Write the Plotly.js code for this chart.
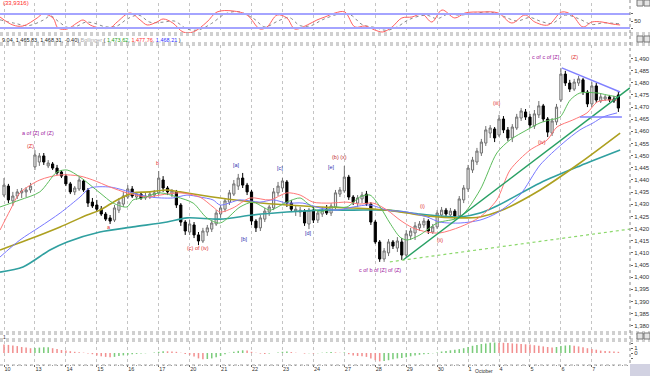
<!DOCTYPE html>
<html><head><meta charset="utf-8">
<script src="https://cdn.plot.ly/plotly-3.0.1.min.js"></script>
<style>html,body{margin:0;padding:0;background:#fff;overflow:hidden}#chart{width:650px;height:376px}</style>
</head><body><div id="chart"></div>
<script>
// ---------- data ----------
const dayLabels = ['10','13','14','15','16','17','20','21','22','23','24','27','28','29','30','1','4','5','6','7'];
const barsPerDay = 7;

const open = [1433.8,1437.5,1431.4,1433.4,1434.7,1435.1,1435.9,
1445.4,1447.4,1449.9,1445.8,1446.6,1444.9,1443.3,
1441.6,1438.4,1435.1,1436.3,1439.6,1435.9,1430.9,
1429.7,1428.0,1426.0,1424.4,1423.5,1427.6,1430.1,
1433.0,1436.3,1433.0,1434.2,1432.6,1433.0,1433.8,
1434.7,1440.0,1436.7,1434.2,1435.1,1429.7,1422.7,
1418.6,1421.5,1417.4,1414.9,1418.6,1419.8,1421.9,
1426.0,1428.0,1430.9,1434.2,1437.5,1440.8,1437.9,
1435.1,1423.1,1420.3,1423.9,1426.8,1428.5,1434.7,
1436.7,1439.2,1430.5,1427.2,1426.8,1427.2,1421.9,
1427.6,1423.5,1426.0,1428.0,1426.4,1428.9,1434.2,
1435.5,1441.2,1433.0,1430.5,1432.2,1434.2,1430.1,
1422.7,1414.5,1407.5,1410.0,1414.5,1412.0,1414.5,
1409.1,1417.0,1418.2,1420.3,1421.5,1423.1,1418.6,
1420.7,1425.6,1427.6,1425.6,1427.2,1425.2,1431.8,
1436.3,1444.1,1447.4,1451.1,1455.2,1459.3,1461.0,
1458.5,1465.1,1460.6,1457.3,1461.4,1465.5,1468.0,
1465.9,1462.2,1466.8,1470.5,1465.1,1459.3,1463.9,
1472.9,1483.6,1479.9,1477.4,1479.9,1481.2,1476.2,
1471.3,1478.7,1472.5,1473.3,1474.2,1473.3,1475.0];
const high = [1440.8,1438.4,1435.1,1436.3,1436.7,1437.1,1438.8,
1452.3,1451.1,1451.1,1448.2,1447.4,1446.2,1444.1,
1442.5,1439.2,1437.5,1441.2,1440.4,1436.7,1432.6,
1431.8,1429.3,1426.8,1425.6,1429.7,1432.6,1435.1,
1437.9,1437.5,1435.1,1435.1,1434.7,1435.1,1435.9,
1443.7,1441.6,1437.5,1436.3,1435.9,1430.5,1423.5,
1423.5,1422.7,1418.6,1420.3,1421.5,1423.5,1427.6,
1429.7,1432.6,1435.9,1440.0,1442.5,1442.9,1438.8,
1435.9,1423.9,1425.6,1428.5,1429.7,1436.7,1439.2,
1440.8,1440.0,1431.8,1429.3,1428.9,1428.0,1428.5,
1428.9,1427.6,1428.9,1429.7,1430.5,1435.9,1437.1,
1445.8,1442.1,1433.8,1433.8,1435.1,1435.5,1430.9,
1423.5,1415.3,1412.0,1415.7,1415.3,1416.5,1416.1,
1419.4,1420.3,1422.7,1423.1,1424.4,1423.9,1421.9,
1427.6,1428.9,1428.5,1428.5,1428.0,1433.4,1437.9,
1446.2,1449.5,1453.2,1456.9,1462.2,1462.6,1461.8,
1466.8,1466.3,1461.8,1463.0,1467.2,1469.6,1469.2,
1467.2,1468.8,1472.5,1471.3,1465.9,1465.5,1471.3,
1486.1,1484.9,1481.2,1481.6,1482.8,1482.0,1477.0,
1480.3,1479.9,1475.4,1475.0,1475.0,1474.6,1476.6];
const low = [1433.0,1430.5,1429.3,1432.2,1432.6,1433.0,1434.7,
1444.1,1445.8,1446.2,1444.9,1444.1,1442.1,1440.8,
1437.5,1434.2,1433.8,1435.5,1435.1,1428.9,1428.5,
1426.8,1425.2,1423.1,1421.9,1422.7,1426.4,1428.9,
1432.2,1432.6,1431.8,1431.8,1431.8,1432.2,1432.6,
1433.8,1435.1,1433.8,1433.0,1428.5,1421.1,1417.4,
1417.4,1416.1,1413.2,1414.1,1417.0,1418.6,1421.1,
1424.4,1426.8,1429.7,1433.4,1435.9,1436.7,1433.8,
1421.5,1418.6,1419.0,1422.7,1425.2,1427.6,1433.4,
1435.1,1428.9,1426.8,1425.2,1424.8,1421.1,1419.8,
1422.3,1422.3,1424.8,1425.6,1425.2,1428.0,1433.0,
1434.7,1431.8,1429.7,1428.9,1430.5,1429.3,1421.5,
1413.7,1406.3,1406.3,1408.7,1411.6,1410.4,1407.1,
1407.9,1415.3,1415.3,1419.0,1420.3,1417.8,1417.8,
1419.8,1424.4,1424.8,1424.4,1423.9,1424.4,1430.5,
1435.1,1442.9,1446.2,1449.9,1454.0,1457.3,1455.6,
1457.7,1459.3,1456.1,1455.6,1460.6,1464.3,1464.7,
1461.4,1461.0,1465.5,1463.9,1457.7,1458.1,1462.6,
1472.1,1478.7,1476.2,1476.6,1478.7,1475.0,1470.0,
1470.0,1471.7,1471.7,1472.5,1472.1,1471.7,1468.0];
const close = [1437.9,1431.8,1433.4,1435.1,1435.5,1435.9,1437.5,
1450.3,1449.9,1447.4,1447.0,1444.9,1442.9,1441.6,
1438.4,1435.1,1436.7,1440.0,1435.9,1430.5,1429.3,
1428.0,1426.0,1423.9,1423.1,1428.5,1430.9,1433.4,
1436.3,1433.4,1434.2,1432.6,1433.4,1434.2,1434.7,
1440.8,1436.7,1435.1,1435.5,1429.7,1422.7,1419.0,
1421.9,1417.4,1414.9,1419.0,1420.3,1422.3,1426.4,
1428.5,1431.4,1434.7,1438.4,1440.8,1437.9,1435.1,
1423.1,1420.3,1424.4,1427.2,1428.9,1435.1,1437.5,
1439.6,1430.5,1428.0,1428.0,1427.6,1422.3,1427.6,
1423.5,1426.4,1427.6,1426.4,1429.3,1434.7,1435.9,
1441.2,1433.0,1430.9,1432.6,1433.8,1430.1,1422.7,
1414.5,1407.5,1410.8,1414.5,1412.8,1414.9,1409.1,
1417.8,1419.0,1421.1,1421.9,1423.1,1419.0,1420.7,
1426.4,1427.6,1426.0,1427.2,1425.2,1432.2,1436.7,
1444.9,1448.2,1451.9,1455.6,1460.6,1461.4,1457.3,
1465.1,1460.6,1457.3,1461.8,1465.9,1468.4,1465.9,
1462.6,1467.2,1470.5,1465.1,1459.7,1464.3,1470.0,
1483.6,1479.9,1477.4,1480.3,1481.6,1476.2,1471.3,
1478.7,1472.9,1474.2,1474.2,1472.9,1472.5,1469.6];

// moving averages (bar position, price) read at sample points
const greenPos = [-0.9,3.6,8.1,12.0,14.3,17.2,21.7,24.7,27.8,29.2,31.4,35.3,39.1,42.8,45.9,48.9,53.4,56.3,58.6,60.2,64.0,67.0,68.6,71.5,74.4,77.6,80.5,82.8,85.1,87.3,89.6,91.2,94.1,98.0,103.2,107.7,111.5,114.5,118.3,121.3,123.5,125.8,128.1,130.3,134.2,136.4,138.7];
const greenVal = [1428.9,1431.8,1435.1,1443.3,1444.1,1441.2,1434.7,1430.5,1428.9,1431.8,1432.6,1434.7,1433.0,1430.5,1424.4,1422.3,1428.9,1430.9,1428.9,1427.6,1430.9,1432.6,1430.5,1426.8,1428.9,1428.9,1433.0,1433.8,1428.9,1422.3,1416.5,1415.3,1417.4,1422.3,1424.8,1435.9,1451.1,1456.5,1460.6,1463.5,1464.7,1465.9,1472.9,1475.8,1475.8,1475.0,1474.2];
const redPos = [-0.9,1.4,3.6,8.1,12.7,17.2,20.1,24.0,27.8,32.4,35.3,39.8,44.3,47.3,48.9,51.8,55.7,60.2,64.0,67.0,69.9,73.8,77.6,80.5,83.5,86.7,89.6,92.5,95.7,98.6,103.2,107.7,111.5,114.5,119.0,122.9,125.1,128.7,131.9,134.2,136.4,138.7];
const redVal = [1419.4,1427.6,1434.7,1440.0,1442.1,1441.6,1440.0,1437.1,1434.7,1433.0,1433.8,1434.7,1433.0,1428.9,1426.8,1428.5,1432.6,1431.8,1434.7,1433.8,1430.9,1430.5,1430.9,1430.1,1430.5,1427.6,1423.5,1420.3,1418.6,1418.2,1420.7,1424.8,1431.8,1444.1,1452.3,1456.5,1461.8,1464.7,1467.6,1472.1,1472.9,1472.9];
const bluePos = [-0.9,3.6,8.1,12.7,17.2,19.5,24.0,26.9,29.2,33.0,38.2,41.4,44.3,47.3,48.9,53.4,57.9,60.9,64.0,67.6,71.5,75.3,79.0,82.8,86.7,91.2,95.7,98.6,103.2,107.7,111.5,116.7,121.3,126.5,130.3,133.3,135.5,138.7];
const blueVal = [1408.3,1415.3,1420.7,1426.4,1433.0,1436.7,1437.1,1435.9,1434.7,1433.0,1432.6,1433.8,1433.0,1431.8,1429.7,1431.8,1430.9,1431.8,1430.5,1430.5,1428.5,1427.6,1428.9,1429.7,1427.6,1426.8,1424.8,1422.7,1422.3,1423.5,1426.4,1433.8,1446.2,1455.2,1460.6,1463.5,1465.9,1467.6];
const olivePos = [-0.9,5.2,12.7,18.8,21.7,25.6,29.2,33.0,36.9,39.8,44.3,48.9,56.3,64.0,71.5,79.0,86.7,91.2,95.7,103.2,107.7,112.2,121.3,130.3,139.4];
const oliveVal = [1411.2,1415.3,1420.7,1425.6,1427.6,1431.8,1434.7,1435.1,1435.9,1435.1,1433.8,1432.6,1430.9,1429.7,1428.9,1428.5,1427.6,1426.4,1425.2,1424.4,1424.8,1427.2,1435.9,1447.0,1459.3];
const tealPos = [-0.9,4.3,10.4,14.3,21.7,29.2,36.9,41.4,48.9,56.3,64.0,71.5,79.0,86.7,94.1,98.6,103.2,107.7,111.5,121.3,130.3,139.4];
const tealVal = [1402.1,1404.2,1411.2,1414.5,1418.6,1420.7,1422.7,1424.4,1423.9,1425.6,1426.8,1427.6,1427.6,1427.6,1426.0,1425.2,1424.8,1426.4,1429.3,1438.8,1445.8,1452.3];

// drawn trend lines
const trendPos = [90.3, 141.6],  trendVal = [1407.1, 1477.9];
const dashPos  = [87.3, 141.6],  dashVal  = [1406.3, 1419.8];
const triTopPos = [126.2, 139.4], triTopVal = [1486.1, 1476.2];
const triBotPos = [130.3, 139.8], triBotVal = [1465.9, 1465.9];

// oscillator panel
const oscRedPos = [-0.9,2.0,4.3,7.5,8.8,11.1,12.2,14.3,16.5,17.9,19.5,21.7,24.0,25.6,28.5,30.8,32.4,34.6,36.0,38.2,40.5,42.8,45.9,48.2,51.8,55.0,57.9,59.5,61.8,64.0,65.8,68.6,70.8,72.6,74.9,77.1,79.4,81.7,83.9,85.7,87.8,90.0,92.3,94.6,96.8,99.1,102.0,104.3,108.1,111.8,114.9,117.9,120.1,123.1,126.2,128.5,131.0,133.0,135.3,137.6,139.4];
const oscRedVal = [67.1,32.9,28.6,62.9,80.0,62.9,20.0,15.7,41.4,54.3,32.9,20.0,20.0,45.7,84.3,54.3,32.9,45.7,58.6,41.4,2.9,2.9,45.7,88.6,92.9,75.7,15.7,24.3,75.7,62.9,15.7,32.9,54.3,67.1,84.3,88.6,24.3,28.6,11.4,2.9,24.3,62.9,67.1,80.0,45.7,97.1,62.9,84.3,88.6,84.3,41.4,75.7,45.7,32.9,88.6,75.7,24.3,45.7,45.7,37.1,32.9];
const oscGrayPos = [-0.9,2.5,5.5,9,10.5,12.5,14.5,16.5,18.5,20.5,23,25.5,28,30.5,33,36,38.5,41.5,44,47,50,53,56.5,59,62,64.5,67,69.5,72,76,78.5,81,84,86.5,89,91.5,95.5,98,100.5,103,106,110,113,116,119,121.5,124,127,130,133,135.5,138,139.4];
const oscGrayVal = [55,40,30,55,72,45,22,28,45,40,25,28,60,75,45,45,50,15,12,40,80,90,60,25,50,65,30,30,55,80,75,35,22,10,25,55,75,60,80,75,82,88,70,50,65,48,40,75,60,35,42,40,38];
const oscLevels = [20, 80];

// histogram panel
const histVal = [1.68,1.62,1.5,1.38,1.2,1.08,0.96,
1.02,1.08,1.14,1.16,0.96,0.78,0.6,
0.48,0.36,0.24,0.14,0.07,-0.12,-0.24,
-0.48,-0.66,-0.78,-0.84,-0.78,-0.6,-0.48,
-0.36,-0.24,-0.18,-0.12,-0.06,0.02,0.1,
0.24,0.36,0.34,0.3,0.24,0.06,-0.18,
-0.36,-0.72,-1.08,-1.26,-1.2,-1.08,-0.84,
-0.6,-0.24,0.06,0.24,0.42,0.54,0.48,
0.24,0.06,-0.12,-0.18,-0.12,0,0.12,
0.24,0.3,0.18,0.06,0,-0.12,-0.06,
-0.12,-0.06,0.06,0.12,0.18,0.12,0.06,
0.12,-0.24,-0.48,-0.6,-0.66,-0.78,-1.08,
-1.44,-1.68,-1.62,-1.44,-1.26,-1.08,-1.02,
-0.84,-0.66,-0.48,-0.36,-0.24,-0.18,-0.06,
0.12,0.3,0.42,0.54,0.66,0.78,0.96,
1.2,1.44,1.62,1.8,1.92,2.04,2.1,
2.06,2.04,1.98,1.92,1.86,1.8,1.74,
1.68,1.56,1.44,1.32,1.2,1.08,1.2,
1.38,1.5,1.56,1.44,1.32,1.14,0.96,
0.78,0.66,0.48,0.42,0.36,0.3,0.24];

const priceTicks = [1380,1385,1390,1395,1400,1405,1410,1415,1420,1425,1430,1435,1440,1445,1450,1455,1460,1465,1470,1475,1480,1485,1490];

// wave labels
const waveLabels = [
  {t:'a of [Z] of (Z)', k:7.7,  p:1459.3, c:'#a020a0'},
  {t:'(Z)',             k:6.1,  p:1454.0, c:'#e03030'},
  {t:'a',               k:23.8, p:1420.7, c:'#e03030'},
  {t:'b',               k:34.8, p:1447.0, c:'#e03030'},
  {t:'(c) of (iv)',     k:43.9, p:1412.0, c:'#e03030'},
  {t:'[a]',             k:52.7, p:1446.2, c:'#3030b0'},
  {t:'[b]',             k:54.3, p:1415.7, c:'#3030b0'},
  {t:'[c]',             k:62.4, p:1444.9, c:'#3030b0'},
  {t:'[d]',             k:68.8, p:1418.2, c:'#3030b0'},
  {t:'[e]',             k:74.2, p:1445.4, c:'#3030b0'},
  {t:'(b) (x)',         k:76.0, p:1449.5, c:'#c03030'},
  {t:'c of b of [Z] of (Z)', k:85.1, p:1403.0, c:'#a020a0'},
  {t:'(i)',             k:94.6, p:1429.3, c:'#e03030'},
  {t:'(ii)',            k:98.6, p:1415.3, c:'#e03030'},
  {t:'(iii)',           k:111.5,p:1471.7, c:'#e03030'},
  {t:'(iv)',            k:121.7,p:1455.6, c:'#e03030'},
  {t:'c of c of [Z]',   k:122.6,p:1490.6, c:'#a020a0'},
  {t:'(Z)',             k:129.0,p:1490.6, c:'#e03030'}
];

// ---------- build ----------
const W = 650, H = 376, PW = 630;
const px2x = px => px / PW;
const py2y = py => 1 - py / H;
const barIndex = open.map((_, i) => i);
const dayStarts = dayLabels.map((_, i) => i * barsPerDay);
const histColors = histVal.map((v, i) => (i > 0 && v > histVal[i - 1]) ? '#7ccc7c' : '#f29090');

const FONT = 'Liberation Sans, Arial, sans-serif';
const maLine = (x, y, color, width) => ({type:'scatter', mode:'lines', x, y, xaxis:'x', yaxis:'y',
  line:{color, width, shape:'spline', smoothing:0.8}, hoverinfo:'skip'});

const traces = [
  {type:'candlestick', x:barIndex, open, high, low, close, xaxis:'x', yaxis:'y',
   increasing:{line:{color:'#707070', width:1}, fillcolor:'#eeeeee'},
   decreasing:{line:{color:'#000000', width:1}, fillcolor:'#000000'},
   whiskerwidth:0, hoverinfo:'skip'},
  maLine(tealPos, tealVal, '#30a0a0', 1.6),
  maLine(olivePos, oliveVal, '#ada020', 1.6),
  maLine(bluePos, blueVal, '#7878ff', 1),
  maLine(redPos, redVal, '#ff7878', 1),
  maLine(greenPos, greenVal, '#5cbc5c', 1),
  {type:'scatter', mode:'lines', x:trendPos, y:trendVal, xaxis:'x', yaxis:'y', line:{color:'#28a064', width:1.4}, hoverinfo:'skip'},
  {type:'scatter', mode:'lines', x:dashPos, y:dashVal, xaxis:'x', yaxis:'y', line:{color:'#8cd86c', width:1.2, dash:'dot'}, hoverinfo:'skip'},
  {type:'scatter', mode:'lines', x:triTopPos, y:triTopVal, xaxis:'x', yaxis:'y', line:{color:'#8080ff', width:1.4}, hoverinfo:'skip'},
  {type:'scatter', mode:'lines', x:triBotPos, y:triBotVal, xaxis:'x', yaxis:'y', line:{color:'#8080ff', width:1.4}, hoverinfo:'skip'},
  {type:'scatter', mode:'lines', x:oscGrayPos, y:oscGrayVal, xaxis:'x', yaxis:'y2', line:{color:'#8a8a8a', width:1, dash:'dot', shape:'spline'}, hoverinfo:'skip'},
  {type:'scatter', mode:'lines', x:oscRedPos, y:oscRedVal, xaxis:'x', yaxis:'y2', line:{color:'#ff6060', width:1, shape:'spline'}, hoverinfo:'skip'},
  {type:'bar', x:barIndex, y:histVal, xaxis:'x', yaxis:'y3', width:0.35, marker:{color:histColors, line:{width:0}}, hoverinfo:'skip'}
];

const shapes = [];
oscLevels.forEach(v => shapes.push({type:'line', xref:'paper', yref:'y2', x0:0, x1:1, y0:v, y1:v, line:{color:'#a4a4ff', width:2}}));
[33,35,43,45,332,334,339,341,365].forEach(py => shapes.push({type:'line', xref:'paper', yref:'paper', x0:0, x1:W/PW, y0:py2y(py), y1:py2y(py), line:{color:'#a0a0a0', width:1, dash:'dot'}}));
shapes.push({type:'line', xref:'paper', yref:'paper', x0:1, x1:1, y0:py2y(0), y1:py2y(363), line:{color:'#888', width:1, dash:'dot'}});
[[0,6],[36,42],[333,339]].forEach(([a,b]) => {
  shapes.push({type:'rect', xref:'paper', yref:'paper', x0:px2x(637), x1:px2x(643), y0:py2y(b), y1:py2y(a), line:{color:'#777', width:1}, fillcolor:'#e4e4e4'});
  shapes.push({type:'rect', xref:'paper', yref:'paper', x0:px2x(644), x1:px2x(650), y0:py2y(b), y1:py2y(a), line:{color:'#777', width:1}, fillcolor:'#e4e4e4'});
});
shapes.push({type:'rect', xref:'paper', yref:'paper', x0:1, x1:W/PW, y0:py2y(376), y1:py2y(364), line:{width:0}, fillcolor:'#d2d2e2'});

const annotations = waveLabels.map(l => ({xref:'x', yref:'y', x:l.k, y:l.p, text:l.t, showarrow:false,
  font:{family:FONT, size:5.5, color:l.c}, xanchor:'center', yanchor:'middle'}));
annotations.push({xref:'paper', yref:'paper', x:px2x(1), y:py2y(3), text:'(33,9316)', showarrow:false, xanchor:'left', yanchor:'middle', font:{family:FONT, size:6, color:'#ff2a2a'}});
annotations.push({xref:'paper', yref:'paper', x:px2x(0), y:py2y(39.5), showarrow:false, xanchor:'left', yanchor:'middle',
  font:{family:FONT, size:5.5, color:'#222'},
  text:'9.04, 1,465.83, 1,468.31, -0.40) <span style="color:#aaaaaa">Bollinger</span> ( <span style="color:#20a020">1,473.62</span>, <span style="color:#ff3030">1,477.76</span>, <span style="color:#3030ff">1,468.21</span> )'});
annotations.push({xref:'paper', yref:'paper', x:px2x(1), y:py2y(336.5), text:'1', showarrow:false, xanchor:'left', yanchor:'middle', font:{family:FONT, size:5, color:'#333'}});
annotations.push({xref:'x', yref:'paper', x:dayStarts[15] + 1.1, y:py2y(376), text:'October', showarrow:false, xanchor:'left', yanchor:'bottom', font:{family:FONT, size:5, color:'#333'}});

const layout = {
  width:W, height:H, margin:{l:0, r:W-PW, t:0, b:0, pad:0},
  paper_bgcolor:'#ffffff', plot_bgcolor:'#ffffff', showlegend:false,
  xaxis:{range:[-0.905, 141.63], anchor:'y3', rangeslider:{visible:false},
    tickmode:'array', tickvals:dayStarts, ticktext:dayLabels, ticklabelposition:'outside right', ticklabelstandoff:-1,
    ticks:'outside', ticklen:2, tickcolor:'#666', tickfont:{family:FONT, size:5.5, color:'#333'},
    minor:{dtick:1, tick0:0, ticks:'outside', ticklen:1, tickcolor:'#999', showgrid:false},
    showgrid:true, gridcolor:'#c4c4c4', griddash:'dot', gridwidth:1, zeroline:false, showline:false, fixedrange:true},
  yaxis:{domain:[py2y(332), py2y(45)], range:[1377.45, 1495.55], side:'right', anchor:'x',
    tickmode:'array', tickvals:priceTicks, tickformat:',d', ticks:'outside', ticklen:2, tickcolor:'#666',
    tickfont:{family:FONT, size:6, color:'#333'}, showgrid:false, zeroline:false, fixedrange:true},
  yaxis2:{domain:[py2y(33), py2y(3)], range:[-1.43, 127.1], side:'right', anchor:'x',
    tickmode:'array', tickvals:[20,50,80], ticktext:['','50',''], ticks:'outside', ticklen:2, tickcolor:'#666',
    tickfont:{family:FONT, size:6, color:'#333'}, showgrid:false, zeroline:false, fixedrange:true},
  yaxis3:{domain:[py2y(364), py2y(341)], range:[-2.2, 2.4], side:'right', anchor:'x',
    tickmode:'array', tickvals:[-1,0,1,2], ticktext:['','0','1',''], ticks:'outside', ticklen:2, tickcolor:'#666',
    tickfont:{family:FONT, size:6, color:'#333'}, showgrid:false, zeroline:false, fixedrange:true},
  bargap:0.6, shapes, annotations
};

Plotly.newPlot('chart', traces, layout, {displayModeBar:false, staticPlot:true});
</script></body></html>
